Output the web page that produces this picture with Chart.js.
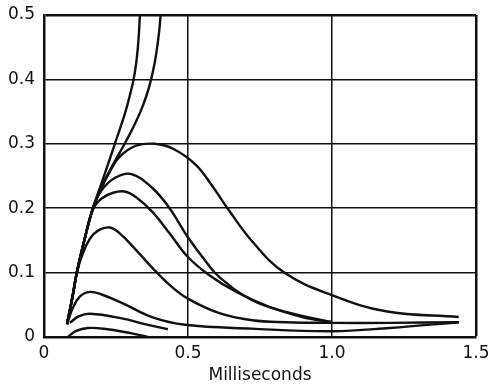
<!DOCTYPE html>
<html>
<head>
<meta charset="utf-8">
<script src="https://cdn.jsdelivr.net/npm/chart.js@4.4.1/dist/chart.umd.min.js"></script>
<style>
  html, body { margin: 0; padding: 0; background: #fff; }
  #wrap { width: 492px; height: 384px; }
</style>
</head>
<body>
<div id="wrap"><canvas id="chart"></canvas></div>
<script>
// curves (x in ms, y in units of the vertical axis)
const curve1X = [0.08, 0.1, 0.114, 0.14, 0.17, 0.21, 0.246, 0.265, 0.283, 0.298, 0.311, 0.32, 0.326, 0.33, 0.333];
const curve1Y = [0.02, 0.065, 0.1, 0.15, 0.2, 0.252, 0.3, 0.325, 0.35, 0.375, 0.4, 0.425, 0.45, 0.475, 0.5];

const curve2X = [0.08, 0.1, 0.114, 0.14, 0.17, 0.2, 0.24, 0.28, 0.309, 0.335, 0.356, 0.372, 0.384, 0.393, 0.4, 0.405];
const curve2Y = [0.02, 0.065, 0.1, 0.15, 0.2, 0.233, 0.268, 0.3, 0.325, 0.35, 0.375, 0.4, 0.425, 0.45, 0.475, 0.5];

const curve3X = [0.08, 0.1, 0.114, 0.14, 0.17, 0.2, 0.23, 0.263, 0.32, 0.384, 0.45, 0.528, 0.585, 0.637, 0.724, 0.834, 1.0, 1.187, 1.44];
const curve3Y = [0.02, 0.065, 0.1, 0.15, 0.2, 0.232, 0.258, 0.28, 0.297, 0.3, 0.292, 0.267, 0.234, 0.2, 0.148, 0.1, 0.065, 0.04, 0.031];

const curve4X = [0.08, 0.1, 0.114, 0.14, 0.17, 0.2, 0.25, 0.304, 0.377, 0.436, 0.498, 0.564, 0.609, 0.723, 0.84, 1.0];
const curve4Y = [0.02, 0.065, 0.1, 0.15, 0.2, 0.228, 0.248, 0.253, 0.231, 0.2, 0.156, 0.116, 0.093, 0.057, 0.039, 0.023];

const curve5X = [0.08, 0.1, 0.114, 0.14, 0.17, 0.2, 0.24, 0.28, 0.32, 0.377, 0.436, 0.498, 0.574, 0.668, 0.78, 0.896, 1.0];
const curve5Y = [0.02, 0.065, 0.1, 0.15, 0.198, 0.215, 0.224, 0.226, 0.217, 0.194, 0.161, 0.125, 0.096, 0.07, 0.047, 0.031, 0.023];

const curve6X = [0.08, 0.1, 0.114, 0.135, 0.16, 0.19, 0.228, 0.263, 0.32, 0.377, 0.436, 0.498, 0.609, 0.723, 0.84, 1.0, 1.2, 1.44];
const curve6Y = [0.02, 0.065, 0.1, 0.13, 0.153, 0.166, 0.17, 0.161, 0.135, 0.107, 0.081, 0.06, 0.037, 0.026, 0.023, 0.022, 0.022, 0.023];

const curve7X = [0.08, 0.1, 0.125, 0.159, 0.2, 0.27, 0.38, 0.49, 0.72, 1.0, 1.2, 1.44];
const curve7Y = [0.02, 0.045, 0.063, 0.07, 0.066, 0.053, 0.03, 0.019, 0.013, 0.009, 0.014, 0.023];

const curve8X = [0.09, 0.12, 0.16, 0.27, 0.35, 0.43];
const curve8Y = [0.022, 0.032, 0.036, 0.029, 0.02, 0.012];

const curve9X = [0.083, 0.11, 0.152, 0.22, 0.3, 0.36];
const curve9Y = [0.0, 0.009, 0.014, 0.012, 0.006, 0.0];

const xTicks = [0, 0.5, 1.0, 1.5];
const xTickLabels = ['0', '0.5', '1.0', '1.5'];
const yTicks = [0, 0.1, 0.2, 0.3, 0.4, 0.5];
const yTickLabels = ['0', '0.1', '0.2', '0.3', '0.4', '0.5'];

const curves = [
  [curve1X, curve1Y], [curve2X, curve2Y], [curve3X, curve3Y],
  [curve4X, curve4Y], [curve5X, curve5Y], [curve6X, curve6Y],
  [curve7X, curve7Y], [curve8X, curve8Y], [curve9X, curve9Y],
];

const ink = '#111111';
const font = { family: '"DejaVu Sans", sans-serif', size: 17 };

const datasets = curves.map(([xs, ys]) => ({
  data: xs.map((x, i) => ({ x: x, y: ys[i] })),
  showLine: true,
  borderColor: ink,
  borderWidth: 2.4,
  pointRadius: 0,
  tension: 0.4,
  fill: false,
}));

new Chart(document.getElementById('chart'), {
  type: 'scatter',
  data: { datasets: datasets },
  options: {
    responsive: true,
    maintainAspectRatio: false,
    animation: false,
    layout: { padding: { left: 0, right: 16, top: 15, bottom: 0 } },
    plugins: { legend: { display: false }, tooltip: { enabled: false } },
    scales: {
      x: {
        type: 'linear',
        min: 0,
        max: 1.5,
        afterBuildTicks: (scale) => { scale.ticks = xTicks.map(v => ({ value: v })); },
        afterFit: (scale) => {
          scale.height = 47;
          scale.paddingLeft = 0;
          scale.paddingRight = 0;
        },
        ticks: {
          color: ink,
          font: font,
          padding: 6,
          maxRotation: 0,
          callback: (v) => xTickLabels[xTicks.indexOf(v)],
        },
        grid: {
          color: ink,
          drawTicks: false,
          lineWidth: (ctx) => (ctx.tick && ctx.tick.value === 1.5 ? 2.5 : 1.5),
        },
        border: { color: ink, width: 2.5 },
        title: { display: true, text: 'Milliseconds', color: ink, font: font, padding: { top: 0, bottom: -2 } },
      },
      y: {
        type: 'linear',
        min: 0,
        max: 0.5,
        afterBuildTicks: (scale) => { scale.ticks = yTicks.map(v => ({ value: v })); },
        afterFit: (scale) => {
          scale.width = 44;
          scale.paddingTop = 0;
          scale.paddingBottom = 0;
        },
        ticks: {
          color: ink,
          font: font,
          padding: 9,
          callback: (v) => yTickLabels[yTicks.indexOf(v)],
        },
        grid: {
          color: ink,
          drawTicks: false,
          lineWidth: (ctx) => (ctx.tick && ctx.tick.value === 0.5 ? 2.5 : 1.5),
        },
        border: { color: ink, width: 2.5 },
      },
    },
  },
});
</script>
</body>
</html>
